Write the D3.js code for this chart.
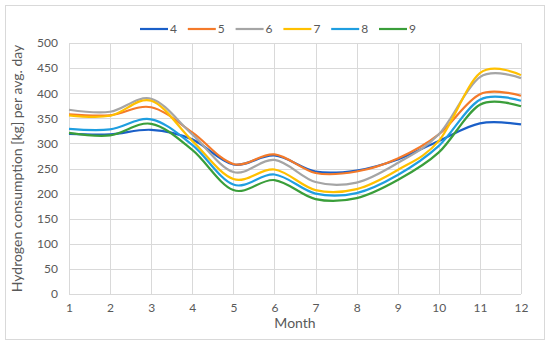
<!DOCTYPE html>
<html>
<head>
<meta charset="utf-8">
<script src="https://cdn.jsdelivr.net/npm/d3@7"></script>
<style>
  body { margin: 0; background: #fff; }
  text { font-family: Lato, "Open Sans", sans-serif; fill: #595959; }
</style>
</head>
<body>
<div id="chart"></div>
<script>
let width = 550,
    height = 345,
    margin = ({ top: 43, right: 29, bottom: 51, left: 69 });

// data
const months = [1, 2, 3, 4, 5, 6, 7, 8, 9, 10, 11, 12];
const seriesNames = ["4", "5", "6", "7", "8", "9"];
const colors = ["#1a5fc8", "#f47a2a", "#a5a5a5", "#ffc000", "#1f9ee0", "#3a9e3a"];
const s4 = [319, 318, 327, 308, 258, 276, 244, 246, 268, 305, 340, 338];
const s5 = [358, 356, 372, 322, 259, 278, 241, 244, 270, 318, 398, 395];
const s6 = [367, 363, 389, 318, 243, 267, 223, 222, 261, 318, 432, 430];
const s7 = [356, 355, 385, 305, 229, 248, 207, 209, 247, 305, 440, 436];
const s8 = [329, 328, 348, 297, 218, 238, 200, 201, 237, 295, 387, 385];
const s9 = [321, 316, 339, 287, 207, 227, 189, 191, 227, 282, 377, 374];
const yTicks = [0, 50, 100, 150, 200, 250, 300, 350, 400, 450, 500];

const allSeries = [s4, s5, s6, s7, s8, s9];

const svg = d3.select("#chart")
  .append("svg")
  .attr("width", width)
  .attr("height", height);

// outer chart frame
svg.append("rect")
  .attr("x", 5.5).attr("y", 5.5)
  .attr("width", 539).attr("height", 334)
  .attr("fill", "none")
  .attr("stroke", "#d9d9d9");

let x = d3.scaleLinear()
  .domain([1, 12])
  .range([margin.left, width - margin.right]);

let y = d3.scaleLinear()
  .domain([0, 500])
  .range([height - margin.bottom, margin.top]);

// gridlines
svg.append("g")
  .attr("stroke", "#d9d9d9")
  .selectAll("line.h")
  .data(yTicks)
  .join("line")
  .attr("x1", margin.left).attr("x2", width - margin.right)
  .attr("y1", d => Math.round(y(d)) + 0.5).attr("y2", d => Math.round(y(d)) + 0.5);

svg.append("g")
  .attr("stroke", "#d9d9d9")
  .selectAll("line.v")
  .data(months)
  .join("line")
  .attr("y1", y(0)).attr("y2", y(500))
  .attr("x1", d => Math.round(x(d)) + 0.5).attr("x2", d => Math.round(x(d)) + 0.5);

// axes (labels only, Excel style)
const yAxis = svg.append("g")
  .attr("transform", `translate(${margin.left - 11},0)`)
  .call(d3.axisLeft(y).tickValues(yTicks).tickSize(0).tickPadding(0));
yAxis.select(".domain").remove();
yAxis.selectAll("text").attr("font-size", 12).style("font-family", "Lato, sans-serif").attr("fill", "#595959");

const xAxis = svg.append("g")
  .attr("transform", `translate(0,${y(0) + 9})`)
  .call(d3.axisBottom(x).tickValues(months).tickFormat(d3.format("d")).tickSize(0).tickPadding(0));
xAxis.select(".domain").remove();
xAxis.selectAll("text").attr("font-size", 12).style("font-family", "Lato, sans-serif").attr("fill", "#595959");

// lines
const line = d3.line()
  .x((d, i) => x(months[i]))
  .y(d => y(d))
  .curve(d3.curveCardinal.tension(0));

svg.append("g")
  .selectAll("path")
  .data(allSeries)
  .join("path")
  .attr("fill", "none")
  .attr("stroke", (d, i) => colors[i])
  .attr("stroke-width", 2.2)
  .attr("d", line);

// axis titles
svg.append("text")
  .attr("transform", `translate(22,${(y(0) + y(500)) / 2}) rotate(-90)`)
  .attr("text-anchor", "middle")
  .attr("font-size", 14)
  .text("Hydrogen consumption [kg] per avg. day");

svg.append("text")
  .attr("x", (x(1) + x(12)) / 2)
  .attr("y", 328)
  .attr("text-anchor", "middle")
  .attr("font-size", 14)
  .text("Month");

// legend
const legend = svg.append("g")
  .selectAll("g")
  .data(seriesNames)
  .join("g")
  .attr("transform", (d, i) => `translate(${140 + i * 47.8},29)`);

legend.append("line")
  .attr("x1", 0).attr("x2", 28)
  .attr("stroke", (d, i) => colors[i])
  .attr("stroke-width", 2.2);

legend.append("text")
  .attr("x", 30)
  .attr("dy", "0.35em")
  .attr("font-size", 12)
  .text(d => d);
</script>
</body>
</html>
